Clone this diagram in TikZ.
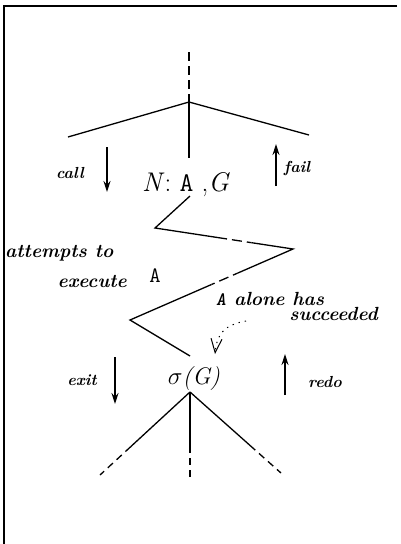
\documentclass[tikz,border=0pt]{standalone}
\usepackage{graphicx}
\usepackage{tikz}
\usetikzlibrary{arrows.meta,positioning,calc}

\begin{document}
\begin{tikzpicture}[x=1pt, y=-1pt, >={Stealth[length=11pt,width=7pt]},
  branch/.style={line width=1.3pt},
  broken/.style={line width=1.3pt, dash pattern=on 7pt off 5pt},
  flow/.style={->, line width=1.3pt},
  portlbl/.style={font=\fontsize{16}{18}\selectfont\bfseries\itshape, inner sep=0pt},
  note/.style={font=\fontsize{19}{21}\selectfont\bfseries\itshape, inner sep=0pt},
  term/.style={font=\fontsize{27}{29}\selectfont, inner sep=0pt}]
  \useasboundingbox (0,0) rectangle (401,544);
  \draw[line width=1.4pt] (397,6) -- (4,6) -- (4,544);

  % upper tree and the goal
  \coordinate (top) at (189,52);
  \coordinate (root) at (189,102);
  \coordinate (lleaf) at (68,137);
  \coordinate (rleaf) at (309,135);
  \coordinate (stem) at (189,158);
  \draw[broken, line width=1.1pt, dash pattern=on 9pt off 5pt] (top) -- (root);
  \draw[branch] (lleaf) -- (root) -- (rleaf);
  \draw[branch] (root) -- (stem);
  \node[term] (goal) at (186,185) {\textit{N}: \texttt{A} ,\textit{G}};

  % ports
  \node[portlbl] (call) at (70,173) {call};
  \coordinate (callS) at (107,147);
  \coordinate (callE) at (107,192);
  \draw[flow] (callS) -- (callE);
  \node[portlbl] (fail) at (297,168) {fail};
  \coordinate (failS) at (276,186);
  \coordinate (failE) at (276,144);
  \draw[flow] (failS) -- (failE);

  % zigzag execution of A
  \coordinate (z0) at (190,196);
  \coordinate (z1) at (155,228);
  \coordinate (z2) at (293,249);
  \coordinate (z3) at (130,320);
  \node[term, font=\fontsize{24}{26}\selectfont] (sol) at (194,379) {$\sigma$\textit{(G)}};
  \coordinate (z4) at (190,356);
  \draw[branch] (z0) -- (z1) -- ($(z1)!0.45!(z2)$);
  \draw[broken, dash pattern=on 10pt off 5pt] ($(z1)!0.45!(z2)$) -- ($(z1)!0.70!(z2)$);
  \draw[branch] ($(z1)!0.70!(z2)$) -- (z2) -- ($(z2)!0.34!(z3)$);
  \draw[broken, dash pattern=on 5pt off 5pt on 10pt off 5pt] ($(z2)!0.34!(z3)$) -- ($(z2)!0.50!(z3)$);
  \draw[branch] ($(z2)!0.50!(z3)$) -- (z3) -- (z4);

  \node[note, anchor=west] (attempts) at (5,253) {attempts to};
  \node[note, anchor=east] (execute) at (127,281) {execute};
  \node[term, font=\fontsize{22}{24}\selectfont] (act) at (155,276) {\texttt{A}};
  \node[note, anchor=west] (alone) at (216,299) {\texttt{A} alone has};
  \node[note, anchor=east] (succ) at (378,314) {succeeded};
  \coordinate (hint) at (246,321);
  \coordinate (hintE) at (215,354);
  \draw[line width=1pt, dash pattern=on 1.3pt off 5pt, -{Straight Barb[length=14pt,width=11pt]}]
    (hint) .. controls (224,325) and (217,334) .. (hintE);

  % exit and redo
  \node[portlbl] (exit) at (82,380) {exit};
  \coordinate (exitS) at (115,357);
  \coordinate (exitE) at (115,404);
  \draw[flow] (exitS) -- (exitE);
  \node[portlbl] (redo) at (325,382) {redo};
  \coordinate (redoS) at (285,395);
  \coordinate (redoE) at (285,354);
  \draw[flow] (redoS) -- (redoE);

  % lower tree
  \coordinate (root2) at (190,392);
  \coordinate (lleaf2) at (100,475);
  \coordinate (mleaf2) at (190,482);
  \coordinate (rleaf2) at (281,473);
  \draw[branch] (root2) -- ($(root2)!0.66!(lleaf2)$);
  \draw[broken] ($(root2)!0.66!(lleaf2)$) -- (lleaf2);
  \draw[branch] (root2) -- ($(root2)!0.60!(mleaf2)$);
  \draw[broken] ($(root2)!0.60!(mleaf2)$) -- (mleaf2);
  \draw[branch] (root2) -- ($(root2)!0.66!(rleaf2)$);
  \draw[broken] ($(root2)!0.66!(rleaf2)$) -- (rleaf2);
\end{tikzpicture}
\end{document}
